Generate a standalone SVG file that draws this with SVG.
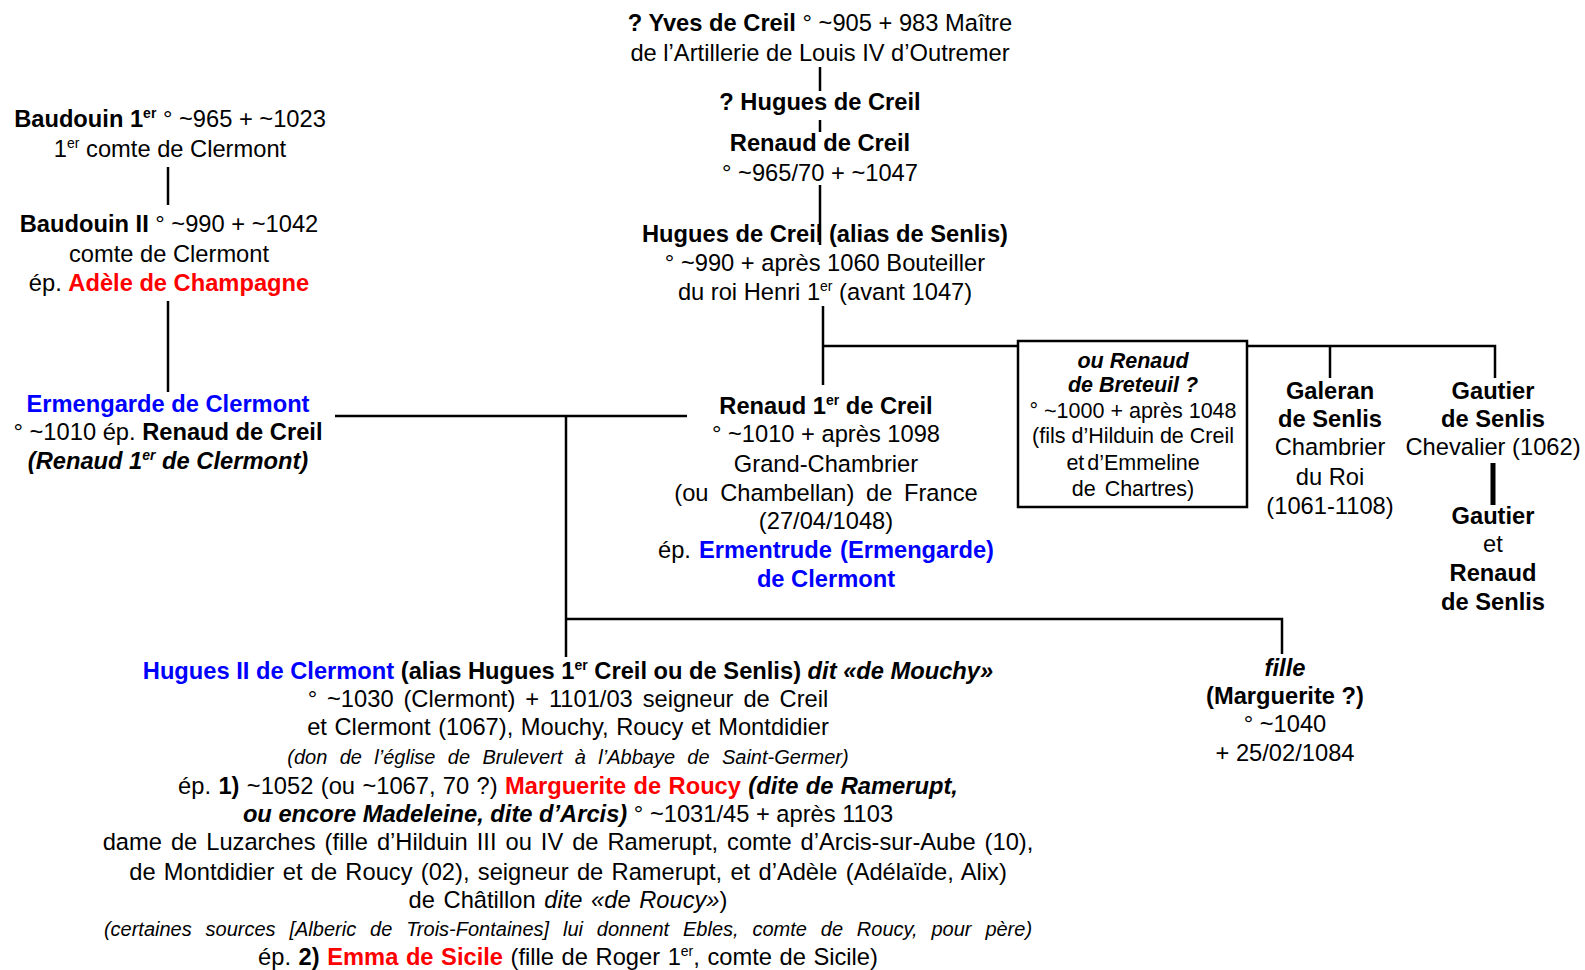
<svg xmlns="http://www.w3.org/2000/svg" width="1585" height="970" viewBox="0 0 1585 970">
<style>
text{font-family:"Liberation Sans",Arial,sans-serif;font-size:23.7px;fill:#000;text-anchor:middle}
.b{font-weight:bold}
.i{font-style:italic}
.bl{fill:#0000ff;font-weight:bold}
.rd{fill:#ff0000;font-weight:bold}
.sm{font-size:21.5px}
.xs{font-size:20px}
.sup{font-size:14px}
.ln{stroke:#000;stroke-width:2.5;fill:none}
.thick{stroke:#000;stroke-width:5;fill:none}
.box{stroke:#000;stroke-width:2.5;fill:#fff}
</style>
<rect width="1585" height="970" fill="#fff"/>
<g id="connectors">
<line class="ln" x1="820" y1="67" x2="820" y2="91"/>
<line class="ln" x1="820" y1="120" x2="820" y2="132"/>
<line class="ln" x1="820" y1="185" x2="820" y2="245"/>
<line class="ln" x1="823" y1="306" x2="823" y2="385"/>
<line class="ln" x1="823" y1="346" x2="1018" y2="346"/>
<polyline class="ln" points="1247,346 1495,346 1495,378"/>
<line class="ln" x1="1330" y1="346" x2="1330" y2="378"/>
<line class="thick" x1="1493" y1="463" x2="1493" y2="505"/>
<line class="ln" x1="168" y1="167" x2="168" y2="205"/>
<line class="ln" x1="168" y1="301" x2="168" y2="392"/>
<line class="ln" x1="335" y1="416" x2="687" y2="416"/>
<line class="ln" x1="566" y1="416" x2="566" y2="657"/>
<polyline class="ln" points="566,619 1282,619 1282,654"/>
</g>
<g id="yves">
<text x="820" y="31"><tspan class="b">? Yves de Creil</tspan> ° ~905 + 983 Maître</text>
<text x="820" y="60.5">de l’Artillerie de Louis IV d’Outremer</text>
</g>
<g id="hugues-creil-1">
<text x="820" y="110" class="b">? Hugues de Creil</text>
</g>
<g id="renaud-creil">
<text x="820" y="151" class="b">Renaud de Creil</text>
<text x="820" y="181">° ~965/70 + ~1047</text>
</g>
<g id="hugues-creil-senlis">
<text x="825" y="242" class="b">Hugues de Creil (alias de Senlis)</text>
<text x="825" y="270.5">° ~990 + après 1060 Bouteiller</text>
<text x="825" y="300">du roi Henri 1<tspan class="sup" dy="-9">er</tspan><tspan dy="9"> (avant 1047)</tspan></text>
</g>
<g id="baudouin-1">
<text x="170" y="127"><tspan class="b">Baudouin 1</tspan><tspan class="b sup" dy="-9">er</tspan><tspan dy="9"> ° ~965 + ~1023</tspan></text>
<text x="170" y="156.5">1<tspan class="sup" dy="-9">er</tspan><tspan dy="9"> comte de Clermont</tspan></text>
</g>
<g id="baudouin-2">
<text x="169" y="232"><tspan class="b">Baudouin II</tspan> ° ~990 + ~1042</text>
<text x="169" y="261.5">comte de Clermont</text>
<text x="169" y="291">ép. <tspan class="rd">Adèle de Champagne</tspan></text>
</g>
<g id="ermengarde">
<text x="168" y="412" class="bl">Ermengarde de Clermont</text>
<text x="168" y="440">° ~1010 ép. <tspan class="b">Renaud de Creil</tspan></text>
<text x="168" y="469" class="b i">(Renaud 1<tspan class="sup" dy="-9">er</tspan><tspan dy="9"> de Clermont)</tspan></text>
</g>
<g id="renaud-1er">
<text x="826" y="414" class="b">Renaud 1<tspan class="sup" dy="-9">er</tspan><tspan dy="9"> de Creil</tspan></text>
<text x="826" y="442">° ~1010 + après 1098</text>
<text x="826" y="471.5">Grand-Chambrier</text>
<text x="826" y="501" word-spacing="5">(ou Chambellan) de France</text>
<text x="826" y="529">(27/04/1048)</text>
<text x="826" y="558" word-spacing="1.5">ép.  <tspan class="bl">Ermentrude (Ermengarde)</tspan></text>
<text x="826" y="587" class="bl">de Clermont</text>
</g>
<g id="renaud-breteuil">
<rect class="box" x="1018" y="341" width="229" height="166"/>
<text x="1133" y="367.5" class="sm b i">ou Renaud</text>
<text x="1133" y="392" class="sm b i">de Breteuil  ?</text>
<text x="1133" y="418" class="sm">° ~1000 + après 1048</text>
<text x="1133" y="443" class="sm">(fils d’Hilduin de Creil</text>
<text x="1133" y="469.5" class="sm" word-spacing="-3">et d’Emmeline</text>
<text x="1133" y="496" class="sm" word-spacing="3">de Chartres)</text>
</g>
<g id="galeran">
<text x="1330" y="399" class="b">Galeran</text>
<text x="1330" y="427" class="b">de Senlis</text>
<text x="1330" y="455">Chambrier</text>
<text x="1330" y="485">du Roi</text>
<text x="1330" y="514">(1061-1108)</text>
</g>
<g id="gautier">
<text x="1493" y="399" class="b">Gautier</text>
<text x="1493" y="427" class="b">de Senlis</text>
<text x="1493" y="455">Chevalier (1062)</text>
</g>
<g id="gautier-renaud">
<text x="1493" y="524" class="b">Gautier</text>
<text x="1493" y="552">et</text>
<text x="1493" y="581" class="b">Renaud</text>
<text x="1493" y="610" class="b">de Senlis</text>
</g>
<g id="hugues-2">
<text x="568" y="679"><tspan class="bl">Hugues II de Clermont</tspan><tspan class="b"> (alias Hugues 1</tspan><tspan class="b sup" dy="-9">er</tspan><tspan class="b" dy="9"> Creil ou de Senlis) </tspan><tspan class="b i">dit «de Mouchy»</tspan></text>
<text x="568" y="707" word-spacing="3.3">° ~1030 (Clermont) + 1101/03 seigneur de Creil</text>
<text x="568" y="735" word-spacing="1">et Clermont (1067), Mouchy, Roucy et Montdidier</text>
<text x="568" y="763.5" class="xs i" word-spacing="6.8">(don de l’église de Brulevert à l’Abbaye de Saint-Germer)</text>
<text x="568" y="794" word-spacing="0.8">ép. <tspan class="b">1)</tspan> ~1052 (ou ~1067, 70 ?) <tspan class="rd">Marguerite de Roucy</tspan> <tspan class="b i">(dite de Ramerupt,</tspan></text>
<text x="568" y="822"><tspan class="b i">ou encore Madeleine, dite d’Arcis)</tspan> ° ~1031/45 + après 1103</text>
<text x="568" y="850" word-spacing="2.4">dame de Luzarches (fille d’Hilduin III ou IV de Ramerupt, comte d’Arcis-sur-Aube (10),</text>
<text x="568" y="879.5" word-spacing="1.7">de Montdidier et de Roucy (02), seigneur de Ramerupt, et d’Adèle (Adélaïde, Alix)</text>
<text x="568" y="908" word-spacing="2">de Châtillon <tspan class="i">dite «de  Roucy»</tspan>)</text>
<text x="568" y="936" class="xs i" word-spacing="8.3">(certaines sources [Alberic de Trois-Fontaines] lui donnent Ebles, comte de Roucy, pour père)</text>
<text x="568" y="965" word-spacing="1">ép. <tspan class="b">2)</tspan> <tspan class="rd">Emma de Sicile</tspan> (fille de Roger 1<tspan class="sup" dy="-9">er</tspan><tspan dy="9">, comte de Sicile)</tspan></text>
</g>
<g id="fille">
<text x="1285" y="675.5" class="b i">fille</text>
<text x="1285" y="704" class="b">(Marguerite ?)</text>
<text x="1285" y="732">° ~1040</text>
<text x="1285" y="760.5">+ 25/02/1084</text>
</g>
</svg>
